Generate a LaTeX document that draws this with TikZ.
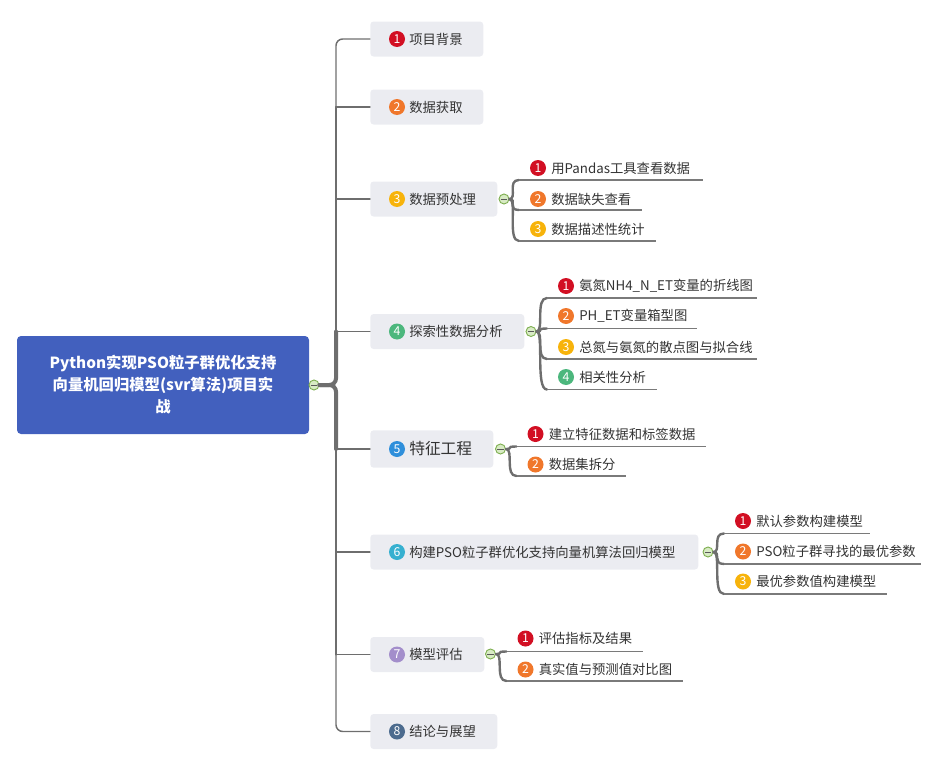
\documentclass[tikz,border=0pt]{standalone}
\usepackage{fontspec}
\setmainfont{Noto Sans CJK SC}
\usetikzlibrary{calc}
\definecolor{rootblue}{HTML}{4260BE}
\definecolor{boxgray}{HTML}{EBECF1}
\definecolor{txt}{HTML}{333333}
\definecolor{linegray}{HTML}{6E6E6E}
\definecolor{ulgray}{HTML}{7A7A7A}
\definecolor{collg}{HTML}{7FAF52}
\definecolor{collfill}{HTML}{D8EBC4}
\definecolor{cA}{HTML}{D20F23}
\definecolor{cB}{HTML}{F0772B}
\definecolor{cC}{HTML}{F7B30B}
\definecolor{cD}{HTML}{4CB77D}
\definecolor{cE}{HTML}{2F8FDB}
\definecolor{cF}{HTML}{36B0D0}
\definecolor{cG}{HTML}{A38ECB}
\definecolor{cH}{HTML}{4C6B8E}
\newcommand\mkcoll[2]{%
  \node[coll] (#1) at (#2) {};
  \draw[line width=0.7pt, black!65] ($(#1.west)+(1.7pt,0)$) -- ($(#1.east)+(-1.7pt,0)$);}
\newcommand\mainitem[6]{% name, y, width(pt), color, number, text
  \node[mainbox, minimum width=#3] (#1) at (370,#2) {};
  \node[numc, fill=#4] (#1n) at (397,#2) {#5};
  \node[lbl] (#1t) at (409,#2) {#6};}
\newcommand\subtopic[9]{% name, marker, cx, cy, color, number, text, uy, uend
  \node[numc, fill=#5] (#1n) at (#3,#4) {#6};
  \node[lbl] (#1t) at ($(#1n.center)+(13,0)$) {#7};
  \coordinate (#1u) at ($(#3,#8)+(-19,0)$);
  \coordinate (#1e) at (#9,#8);
  \draw[subcurve] (#2.east) .. controls ($(#2.east)+(8,0)$) and ($(#1u)+(-12,0)$) .. (#1u);
  \draw[underl] (#1u) -- (#1e);}
\begin{document}
\begin{tikzpicture}[x=0.75pt,y=-0.75pt,
  mainbox/.style={rectangle, rounded corners=2.5pt, fill=boxgray, inner sep=0pt, anchor=west, minimum height=26.25pt},
  numc/.style={circle, inner sep=0pt, minimum size=12pt, text=white, font=\fontsize{9.2}{10}\selectfont},
  lbl/.style={anchor=west, inner sep=0pt, text=txt, font=\fontsize{10}{12}\selectfont},
  trunk/.style={draw=linegray, line cap=round},
  subcurve/.style={draw=linegray, line width=1.8pt, line cap=round},
  underl/.style={draw=ulgray, line width=0.8pt},
  coll/.style={circle, draw=collg, fill=collfill, minimum size=7.5pt, inner sep=0pt, line width=0.7pt},
  rootbox/.style={rectangle, rounded corners=3pt, fill=rootblue, text=white, align=center,
    minimum width=219pt, minimum height=73.5pt, inner sep=0pt,
    font=\bfseries\fontsize{11.5}{16.5}\selectfont}
]
\useasboundingbox (0,0) rectangle (940,760);

% root
\node[rootbox] (root) at (163,385) {Python实现PSO粒子群优化支持\\向量机回归模型(svr算法)项目实\\战};

% main topics
\mainitem{b1}{39}{84.75pt}{cA}{1}{项目背景}
\mainitem{b2}{107}{84.75pt}{cB}{2}{数据获取}
\mainitem{b3}{199}{95.25pt}{cC}{3}{数据预处理}
\mainitem{b4}{331.5}{115.5pt}{cD}{4}{探索性数据分析}
\node[mainbox, minimum width=92.25pt, minimum height=28pt] (b5) at (370,449) {};
\node[numc, fill=cE] (b5n) at (397,449) {5};
\node[lbl, font=\fontsize{11.8}{14}\selectfont] (b5t) at (409,449) {特征工程};
\mainitem{b6}{552}{246pt}{cF}{6}{构建PSO粒子群优化支持向量机算法回归模型}
\mainitem{b7}{654.5}{85.5pt}{cG}{7}{模型评估}
\mainitem{b8}{731.5}{95.25pt}{cH}{8}{结论与展望}

% trunk coordinates
\coordinate (t1) at (336,39);
\coordinate (t2) at (336,107);
\coordinate (t3) at (336,199);
\coordinate (t4) at (336,331.5);
\coordinate (tc) at (336,385);
\coordinate (t5) at (336,449);
\coordinate (t6) at (336,552);
\coordinate (t7) at (336,654.5);
\coordinate (t8) at (336,731.5);

% root collapse marker and junction
\mkcoll{rm}{314,385}
\draw[trunk, line width=3pt, rounded corners=5pt] (rm.east) -- (tc) -- (t4);
\draw[trunk, line width=3pt, rounded corners=5pt] (rm.east) -- (tc) -- (t5);
\draw[trunk, line width=2.2pt] (t4) -- (t3);
\draw[trunk, line width=1.6pt] (t3) -- (t2);
\draw[trunk, line width=1.1pt, rounded corners=5pt] (t2) -- (t1) -- (b1.west);
\draw[trunk, line width=2.2pt] (t5) -- (t6);
\draw[trunk, line width=1.6pt] (t6) -- (t7);
\draw[trunk, line width=1.1pt, rounded corners=5pt] (t7) -- (t8) -- (b8.west);
\draw[trunk, line width=1.1pt] (t2) -- (b2.west);
\draw[trunk, line width=1.1pt] (t3) -- (b3.west);
\draw[trunk, line width=1.1pt] (t4) -- (b4.west);
\draw[trunk, line width=1.1pt] (t5) -- (b5.west);
\draw[trunk, line width=1.1pt] (t6) -- (b6.west);
\draw[trunk, line width=1.1pt] (t7) -- (b7.west);

% group 3
\mkcoll{m3}{504,199}
\subtopic{s31}{m3}{538}{168}{cA}{1}{用Pandas工具查看数据}{180}{703}
\subtopic{s32}{m3}{538}{199}{cB}{2}{数据缺失查看}{210}{642}
\subtopic{s33}{m3}{538}{229}{cC}{3}{数据描述性统计}{241}{656}

% group 4
\mkcoll{m4}{531,331.5}
\subtopic{s41}{m4}{566}{286}{cA}{1}{氨氮NH4\_N\_ET变量的折线图}{298}{757}
\subtopic{s42}{m4}{566}{316}{cB}{2}{PH\_ET变量箱型图}{328.5}{697}
\subtopic{s43}{m4}{566}{347}{cC}{3}{总氮与氨氮的散点图与拟合线}{359}{757}
\subtopic{s44}{m4}{566}{377}{cD}{4}{相关性分析}{389.5}{657}

% group 5
\mkcoll{m5}{500.5,449}
\subtopic{s51}{m5}{535.5}{434}{cA}{1}{建立特征数据和标签数据}{446.5}{706}
\subtopic{s52}{m5}{535.5}{464.5}{cB}{2}{数据集拆分}{476}{626}

% group 6
\mkcoll{m6}{708,552}
\subtopic{s61}{m6}{743}{521}{cA}{1}{默认参数构建模型}{533.5}{870}
\subtopic{s62}{m6}{743}{551.5}{cB}{2}{PSO粒子群寻找的最优参数}{564}{921}
\subtopic{s63}{m6}{743}{581.5}{cC}{3}{最优参数值构建模型}{594}{887}

% group 7
\mkcoll{m7}{490.5,654}
\subtopic{s71}{m7}{525.5}{638.5}{cA}{1}{评估指标及结果}{651.5}{643}
\subtopic{s72}{m7}{525.5}{669.5}{cB}{2}{真实值与预测值对比图}{681}{683}
\end{tikzpicture}
\end{document}
